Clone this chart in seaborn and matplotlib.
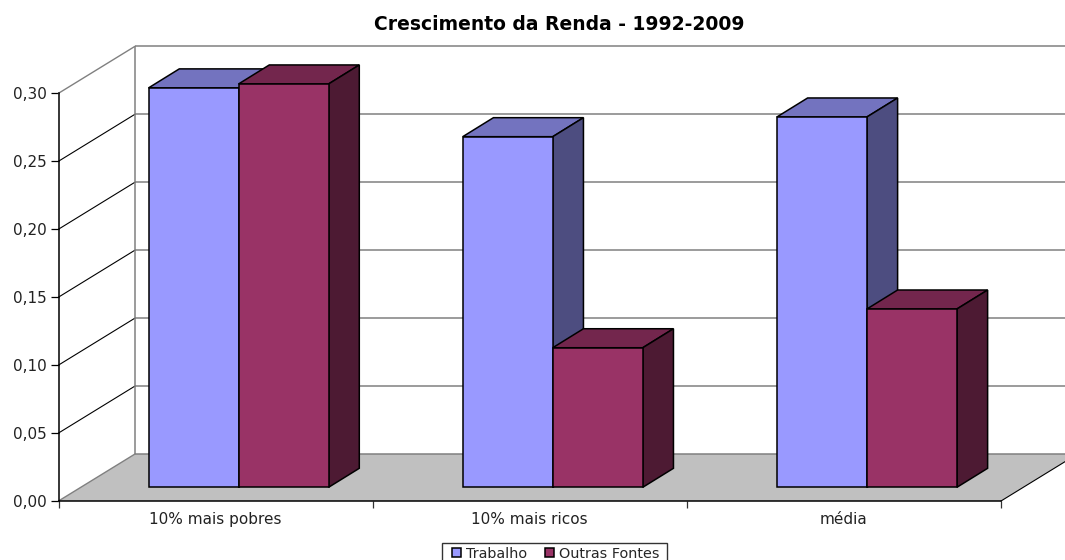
import matplotlib
matplotlib.use("Agg")
import matplotlib.pyplot as plt
import pandas as pd
import seaborn as sns
from matplotlib.patches import Polygon, Rectangle

categories = ["10% mais pobres", "10% mais ricos", "média"]
series_names = ["Trabalho", "Outras Fontes"]
trabalho = [0.2939, 0.2580, 0.2725]
outras = [0.2968, 0.1027, 0.1312]
y_ticks = [0.00, 0.05, 0.10, 0.15, 0.20, 0.25, 0.30]
y_labels = ["0,00", "0,05", "0,10", "0,15", "0,20", "0,25", "0,30"]
title_text = "Crescimento da Renda - 1992-2009"

front = ["#9999FF", "#993366"]
top = ["#7373BF", "#73264D"]
side = ["#4D4D80", "#4D1A33"]

W, H = 1065, 560
L, R, B, T = 58.5, 1001.0, 501.0, 93.3

sns.set_style("white")
plt.rcParams["font.family"] = ["DejaVu Sans"]

fig = plt.figure(figsize=(W / 100, H / 100), dpi=100)
ax = fig.add_axes([L / W, 1 - B / H, (R - L) / W, (B - T) / H])

df = pd.DataFrame({
    "categoria": categories * 2,
    "serie": [series_names[0]] * 3 + [series_names[1]] * 3,
    "valor": trabalho + outras,
})
sns.barplot(data=df, x="categoria", y="valor", hue="serie", hue_order=series_names,
            palette=front, width=0.573, edgecolor="black", linewidth=1.1,
            saturation=1, errorbar=None, ax=ax)

ax.set_xlim(-0.5, 2.5)
ax.set_ylim(0, 0.30)
px_x = (R - L) / 3.0
px_y = (B - T) / 0.30

# depth of the chart box and of the columns, as px -> data scale
wall_dx, wall_dy = 76.5 / px_x, 47.0 / px_y
bar_sx, bar_sy = 23.0 / px_x, 13.7 / px_y
bar_dx, bar_dy = 30.7 / px_x, 19.0 / px_y

x0, x1 = -0.5, 2.5
ax.add_patch(Polygon([(x0, 0), (x1, 0), (x1 + wall_dx, wall_dy), (x0 + wall_dx, wall_dy)],
                     closed=True, fc="#C0C0C0", ec="none", zorder=0.5, clip_on=False))
grid_kw = dict(color="#808080", lw=1.1, clip_on=False, zorder=1, solid_capstyle="butt")
for v in y_ticks:
    ax.plot([x0 + wall_dx, x1 + wall_dx], [v + wall_dy] * 2, **grid_kw)
    if v in (y_ticks[0], y_ticks[-1]):
        ax.plot([x0, x0 + wall_dx], [v, v + wall_dy], color="#808080", lw=1.0,
                clip_on=False, zorder=1)
    else:
        ax.plot([x0, x0 + wall_dx], [v, v + wall_dy], color="black", lw=0.8,
                clip_on=False, zorder=1)
ax.plot([x0 + wall_dx] * 2, [wall_dy, y_ticks[-1] + wall_dy], **grid_kw)
ax.plot([x1, x1 + wall_dx], [0, wall_dy], color="black", lw=0.8, clip_on=False, zorder=1)

n_cat = len(categories)
bars = [p for c in ax.containers for p in c]
for i, p in enumerate(bars):
    s = i // n_cat
    z = 3 + s
    p.set_x(p.get_x() + bar_sx)
    p.set_y(bar_sy)
    p.set_zorder(z + 0.5)
    p.set_clip_on(False)
    p.set_joinstyle("miter")
    xa, xb = p.get_x(), p.get_x() + p.get_width()
    y0, y1 = p.get_y(), p.get_y() + p.get_height()
    kw = dict(closed=True, ec="black", lw=1.1, zorder=z, clip_on=False, joinstyle="miter")
    ax.add_patch(Polygon([(xa, y1), (xb, y1), (xb + bar_dx, y1 + bar_dy), (xa + bar_dx, y1 + bar_dy)],
                         fc=top[s], **kw))
    ax.add_patch(Polygon([(xb, y0), (xb + bar_dx, y0 + bar_dy), (xb + bar_dx, y1 + bar_dy), (xb, y1)],
                         fc=side[s], **kw))

for name in ("top", "right"):
    ax.spines[name].set_visible(False)
for name in ("left", "bottom"):
    ax.spines[name].set_color("black")
    ax.spines[name].set_linewidth(1.1)
    ax.spines[name].set_zorder(2)

ax.set_xlabel("")
ax.set_ylabel("")
ax.set_yticks(y_ticks, y_labels)
ax.set_xticks([-0.5, 0.5, 1.5, 2.5], ["", "", "", ""])
ax.set_xticks(range(n_cat), categories, minor=True)
ax.tick_params(axis="y", which="major", left=True, length=6, width=0.9, color="black",
               pad=2.5, labelsize=11, labelcolor="#222222")
ax.tick_params(axis="x", which="major", bottom=True, length=5, width=0.9, color="#333333")
ax.tick_params(axis="x", which="minor", bottom=False, length=0, pad=8, labelsize=11,
               labelcolor="#222222")

fig.text(559 / W, 1 - 24 / H, title_text, ha="center", va="center",
         fontsize=13.5, fontweight="bold", color="black")

# legend frame runs past the bottom of the image, as in the reference
fig.add_artist(Rectangle((442 / W, 1 - 575 / H), 225 / W, 32 / H, transform=fig.transFigure,
                         fc="white", ec="#333333", lw=1.0, zorder=-1))
handles, labels = ax.get_legend_handles_labels()
leg = ax.legend(handles, labels, ncol=2, loc="upper left",
                bbox_to_anchor=(451.5 / W, 1 - 546.5 / H), bbox_transform=fig.transFigure,
                frameon=False, fontsize=10.4, handlelength=0.63, handleheight=0.63,
                handletextpad=0.36, columnspacing=1.25, borderpad=0, borderaxespad=0,
                title=None)
leg.set_zorder(10)

fig.savefig("out.png", dpi=100)
